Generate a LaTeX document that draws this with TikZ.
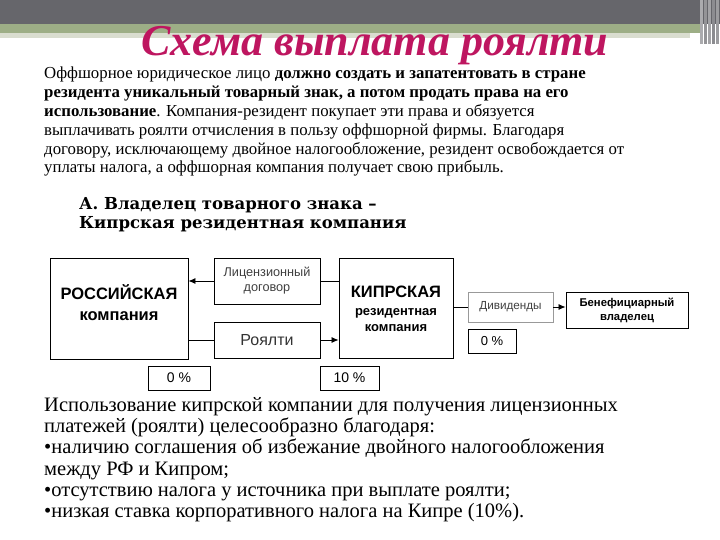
\documentclass[tikz,border=0pt]{standalone}
\usepackage{fontspec}
\setmainfont{Liberation Serif}
\newfontfamily\diagfont{Liberation Sans}
\newfontfamily\headfont{DejaVu Serif}
\usepackage{xcolor}
\usetikzlibrary{positioning,arrows.meta,calc}

\definecolor{bannergray}{HTML}{66666B}
\definecolor{bannergreen}{HTML}{9DAE86}
\definecolor{bannerpale}{HTML}{D9DDCF}
\definecolor{titlered}{HTML}{BE1660}

\tikzset{
  box/.style={draw=black, line width=0.9pt, fill=white, inner sep=0pt, align=center, font=\diagfont},
  softbox/.style={draw=gray!80, line width=0.8pt, fill=white, inner sep=0pt, align=center, font=\diagfont},
  boxtext/.style={inner sep=0pt, align=center},
  flow/.style={line width=0.8pt, -{Latex[length=7pt,width=6pt]}},
  link/.style={line width=0.8pt}
}

\begin{document}
\begin{tikzpicture}[x=1pt,y=-1pt]
  \useasboundingbox (0,0) rectangle (720,540);
  \fill[white] (0,0) rectangle (720,540);

  % Banner
  \fill[bannergray] (0,0) rectangle (720,24);
  \fill[bannergreen] (0,24) rectangle (700,33);
  \fill[bannerpale] (0,33) rectangle (690,38);
  \foreach \xs/\sh in {700/55,704/70,708/60,712/75,716/65} {
    \fill[bannergray!\sh] (\xs,0) rectangle ++(3,44);
  }

  % Title
  \node[font=\fontsize{44}{46}\selectfont\bfseries\itshape, text=titlered] (title) at (375,46) {Схема выплата роялти};

  % Intro text
  \node[anchor=north west, align=left, inner sep=0pt,
        font=\fontsize{16.8}{18.8}\selectfont] (intro) at (44,67) {%
    Оффшорное юридическое лицо \textbf{должно создать и запатентовать в стране}\\
    \textbf{резидента уникальный товарный знак, а потом продать права на его}\\
    \textbf{использование}. Компания-резидент покупает эти права и обязуется\\
    выплачивать роялти отчисления в пользу оффшорной фирмы. Благодаря\\
    договору, исключающему двойное налогообложение, резидент освобождается от\\
    уплаты налога, а оффшорная компания получает свою прибыль.};

  % Subtitle
  \node[anchor=north west, align=left, inner sep=0pt,
        font=\headfont\fontsize{16.5}{19}\selectfont\bfseries] (owner) at (79,197) {%
    А. Владелец товарного знака –\\
    Кипрская резидентная компания};

  % Scheme boxes
  \node[box, minimum width=138pt, minimum height=101pt] (rus) at (119,308.5) {};
  \node[boxtext, font=\diagfont\bfseries\fontsize{16.5}{21}\selectfont] (rusT) at (119,303)
        {РОССИЙСКАЯ\\компания};
  \node[box, minimum width=106pt, minimum height=46pt,
        font=\diagfont\fontsize{12.7}{15}\selectfont, text=black!75] (lic) at (267,281)
        {Лицензионный\\договор};
  \node[box, minimum width=106pt, minimum height=36pt,
        font=\diagfont\fontsize{16}{18}\selectfont, text=black!80] (roy) at (267,340)
        {Роялти};
  \node[box, minimum width=114pt, minimum height=100pt] (cyp) at (396,308) {};
  \node[boxtext, font=\diagfont\bfseries\fontsize{13}{16}\selectfont] (cypT) at (396,309)
        {{\fontsize{16.5}{16}\selectfont КИПРСКАЯ}\\[2pt]
         резидентная\\
         компания};
  \node[softbox, minimum width=85pt, minimum height=30pt,
        font=\diagfont\fontsize{11.7}{14}\selectfont, text=black!75] (div) at (510.5,307)
        {Дивиденды};
  \node[box, minimum width=122pt, minimum height=36pt,
        font=\diagfont\bfseries\fontsize{11.3}{14}\selectfont] (ben) at (627,310)
        {Бенефициарный\\владелец};

  % Tax rates
  \node[box, minimum width=62pt, minimum height=24pt,
        font=\diagfont\fontsize{14}{16}\selectfont] (rateR) at (179,378) {0 \%};
  \node[box, minimum width=59pt, minimum height=24pt,
        font=\diagfont\fontsize{14}{16}\selectfont] (rateC) at (349.5,378) {10 \%};
  \node[box, minimum width=48pt, minimum height=24pt,
        font=\diagfont\fontsize{13}{16}\selectfont] (rateD) at (492,341) {0 \%};

  % Connectors
  \draw[link] (cyp.west |- lic.east) -- (lic.east);
  \draw[flow] (lic.west) -- (rus.east |- lic.west);
  \draw[link] (rus.east |- roy.west) -- (roy.west);
  \draw[flow] (roy.east) -- (cyp.west |- roy.east);
  \draw[link] (cyp.east |- div.west) -- (div.west);
  \draw[flow] (div.east) -- (ben.west |- div.east);

  % Closing text
  \node[anchor=north west, align=left, inner sep=0pt,
        font=\fontsize{20.5}{21.3}\selectfont] (usage) at (44,397) {%
    Использование кипрской компании для получения лицензионных\\
    платежей (роялти) целесообразно благодаря:\\
    •наличию соглашения об избежание двойного налогообложения\\
    между РФ и Кипром;\\
    •отсутствию налога у источника при выплате роялти;\\
    •низкая ставка корпоративного налога на Кипре (10\%).};
\end{tikzpicture}
\end{document}
